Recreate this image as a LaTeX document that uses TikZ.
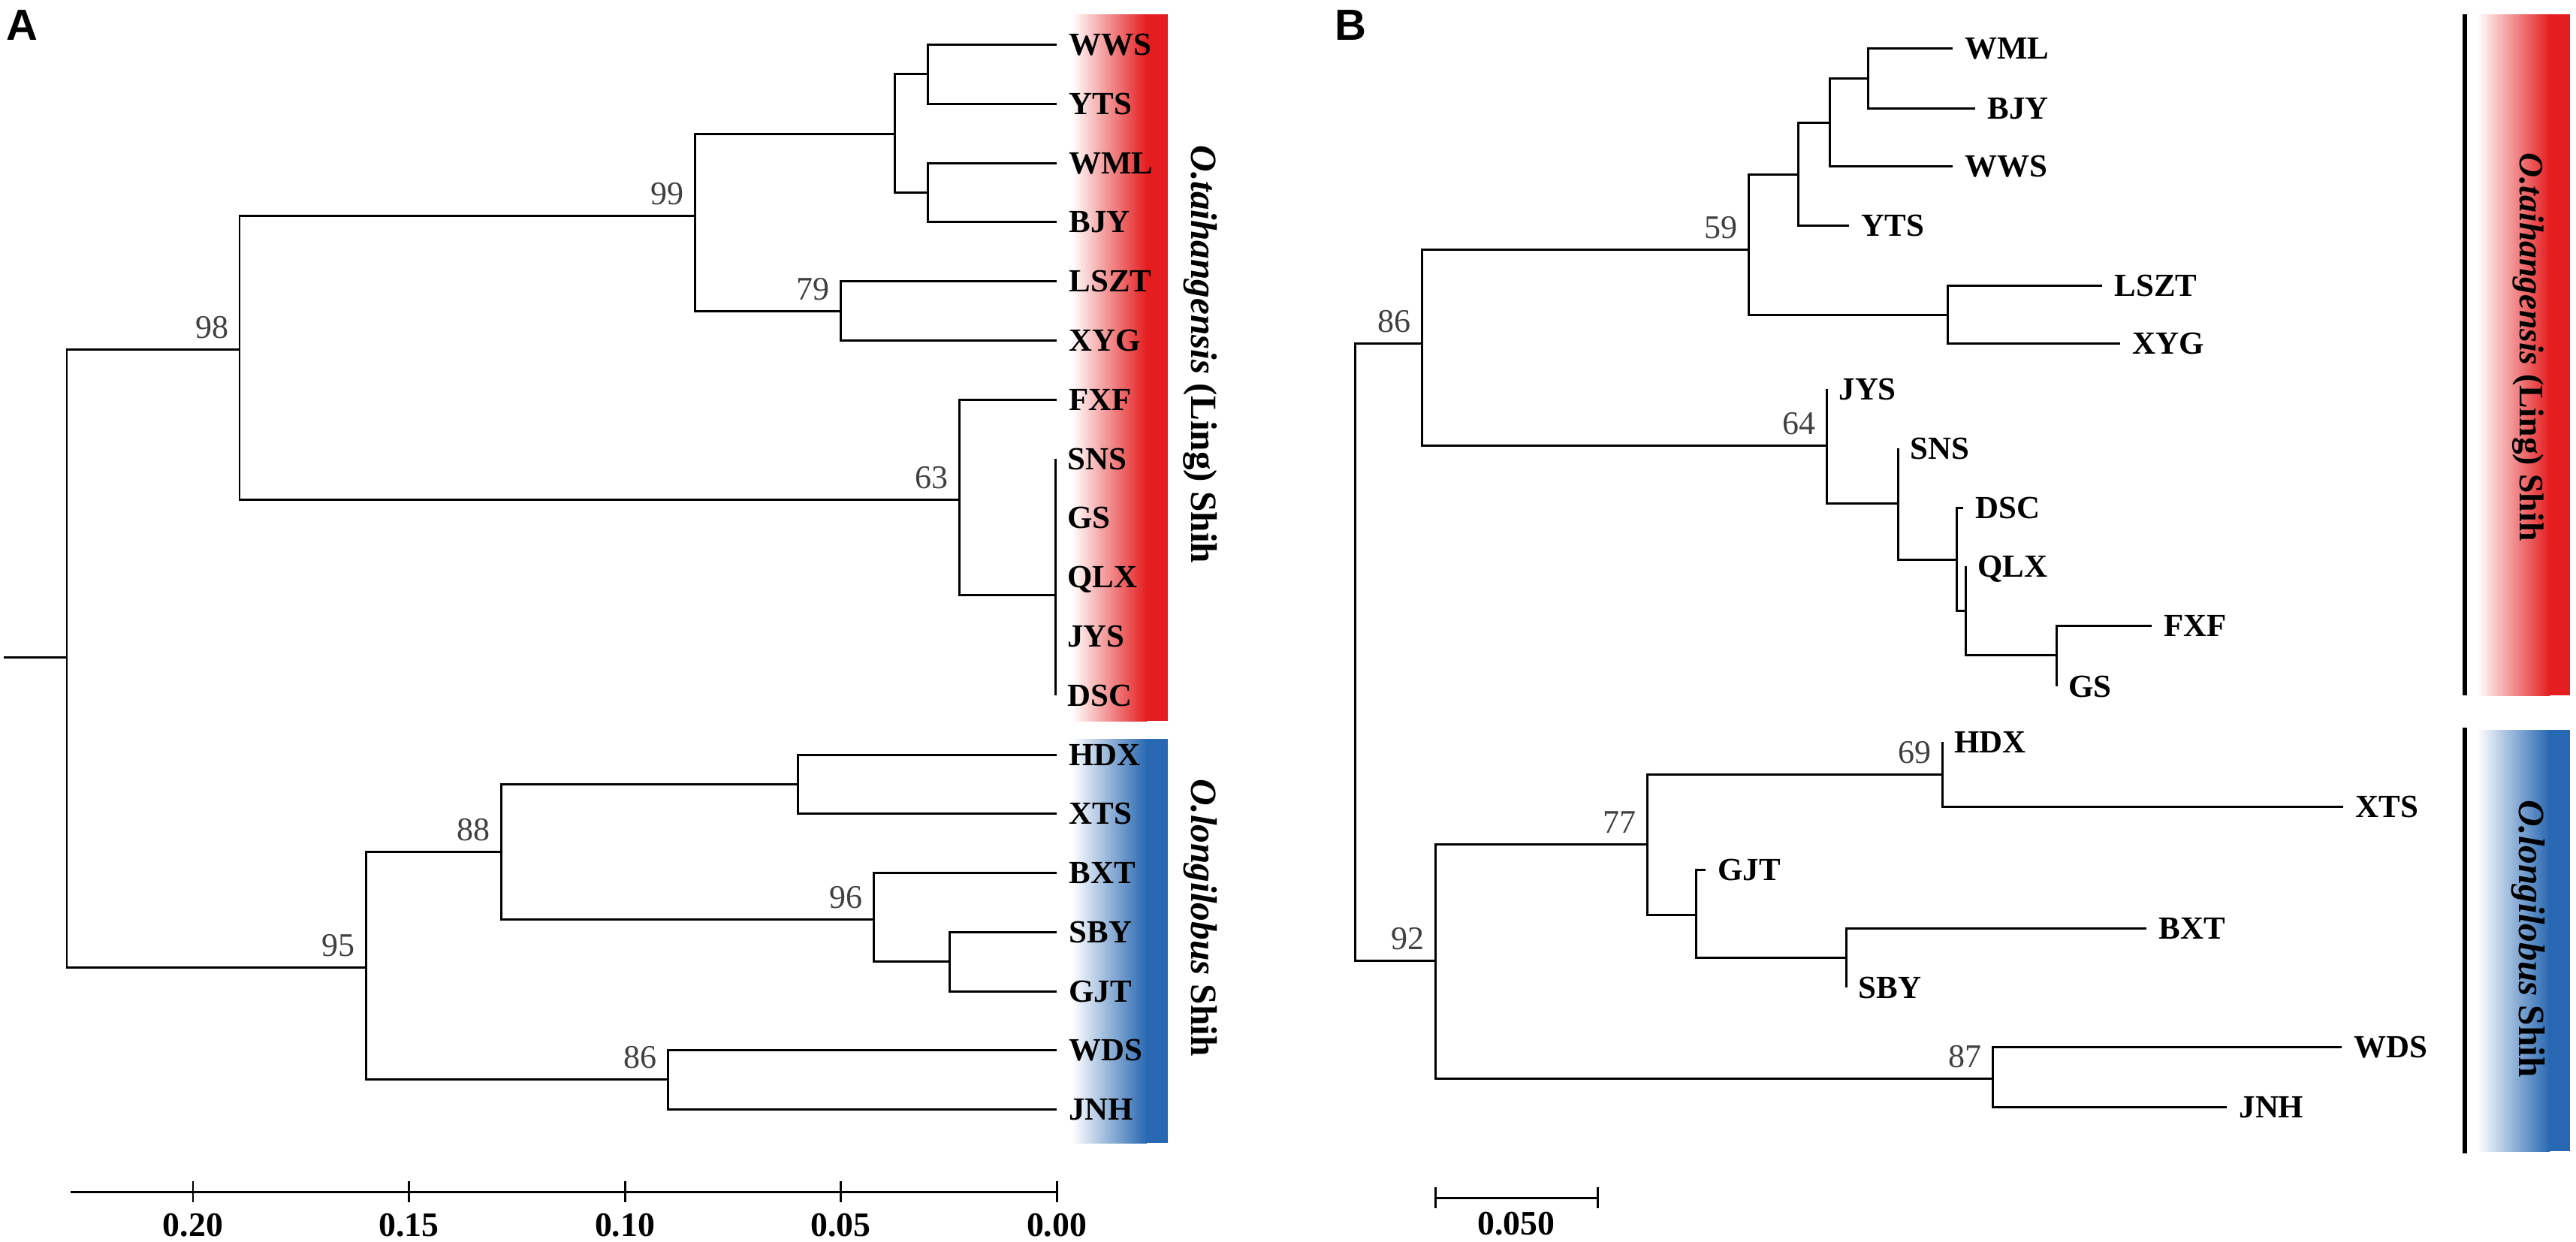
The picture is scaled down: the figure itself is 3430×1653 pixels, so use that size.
\documentclass[tikz,border=0pt]{standalone}
\usepackage{fontspec}
\setmainfont{Liberation Serif}
\newfontfamily\panelfont{Liberation Sans}
\usetikzlibrary{calc,positioning}
\definecolor{cladered}{RGB}{228,30,32}
\definecolor{cladeblue}{RGB}{40,104,178}
\tikzset{
  branch/.style={line width=0.85pt},
  tip/.style={font=\fontsize{12.2}{14}\selectfont\bfseries,anchor=base west,inner sep=0pt,xshift=4.5pt,yshift=-4pt},
  boot/.style={font=\fontsize{12.5}{14}\selectfont,text=black!75,anchor=base east,inner sep=0pt,xshift=-4pt,yshift=4pt},
  scalelab/.style={font=\fontsize{13}{15}\selectfont\bfseries,anchor=base,inner sep=0pt},
  clade/.style={font=\fontsize{14}{16}\selectfont\bfseries,rotate=-90,inner sep=0pt},
  panel/.style={font=\panelfont\fontsize{16.5}{18}\selectfont\bfseries,anchor=north west,inner sep=0pt}
}
\begin{document}
\begin{tikzpicture}[x=0.01cm,y=-0.01cm]
\useasboundingbox (0,0) rectangle (3430,1653);
\node[panel] (pA) at (8,13) {A};
\node[panel] (pB) at (1777,13) {B};
% colour bars
\shade[left color=white,right color=cladered] (1427,19) rectangle (1527,960);
\fill[cladered] (1526,19) rectangle (1555,960);
\shade[left color=white,right color=cladeblue] (1427,984) rectangle (1527,1522);
\fill[cladeblue] (1526,984) rectangle (1555,1522);
\shade[left color=white,right color=cladered] (3298,19) rectangle (3395,926);
\fill[cladered] (3394,19) rectangle (3422,926);
\shade[left color=white,right color=cladeblue] (3298,972) rectangle (3395,1533);
\fill[cladeblue] (3394,972) rectangle (3422,1533);
\draw[line width=1.6pt] (3282,19) -- (3282,926) (3282,969) -- (3282,1536);
\node[clade] (cA1) at (1598,472) {\textit{O.taihangensis} (Ling) Shih};
\node[clade] (cA2) at (1598,1222) {\textit{O.longilobus} Shih};
\node[clade,font=\fontsize{13}{16}\selectfont\bfseries] (cB1) at (3366,462) {\textit{O.taihangensis} (Ling) Shih};
\node[clade] (cB2) at (3366,1250) {\textit{O.longilobus} Shih};
% tree A
\foreach \n/\y in {WWS/59,YTS/138,WML/217,BJY/295,LSZT/374,XYG/453,FXF/532,HDX/1005,XTS/1083,BXT/1162,SBY/1241,GJT/1320,WDS/1398,JNH/1477}
  \coordinate (at\n) at (1407,\y);
\foreach \n/\y in {SNS/611,GS/689,QLX/768,JYS/847,DSC/926}
  \coordinate (at\n) at (1405,\y);
\coordinate (aStub) at (5,875);
\coordinate (aRoot) at (89,875);
\coordinate (a98) at (319,465);
\coordinate (a99) at (925,287);
\coordinate (aUp) at (1191,178);
\coordinate (aWY) at (1235,98);
\coordinate (aWB) at (1235,256);
\coordinate (a79) at (1119,414);
\coordinate (a63) at (1277,665);
\coordinate (aPoly) at (1405,792);
\coordinate (a95) at (487,1288);
\coordinate (a88) at (667,1134);
\coordinate (aHX) at (1062,1044);
\coordinate (a96) at (1163,1224);
\coordinate (aSG) at (1264,1280);
\coordinate (a86) at (889,1437);
\draw[branch] (aStub) -- (aRoot);
\foreach \p/\c in {aRoot/a98,aRoot/a95,a98/a99,a98/a63,a99/aUp,a99/a79,aUp/aWY,aUp/aWB,
    aWY/atWWS,aWY/atYTS,aWB/atWML,aWB/atBJY,a79/atLSZT,a79/atXYG,a63/atFXF,a63/aPoly,
    aPoly/atSNS,aPoly/atGS,aPoly/atQLX,aPoly/atJYS,aPoly/atDSC,a95/a88,a95/a86,
    a88/aHX,a88/a96,aHX/atHDX,aHX/atXTS,a96/atBXT,a96/aSG,aSG/atSBY,aSG/atGJT,
    a86/atWDS,a86/atJNH}
  \draw[branch] (\p) |- (\c);
\foreach \n in {WWS,YTS,WML,BJY,LSZT,XYG,FXF,SNS,GS,QLX,JYS,DSC,HDX,XTS,BXT,SBY,GJT,WDS,JNH}
  \node[tip] (la\n) at (at\n) {\n};
\foreach \n in {98,99,79,63,95,88,96,86}
  \node[boot] (ba\n) at (a\n) {\n};
\draw[branch] (94,1587) -- (1407,1587);
\foreach \v/\x [count=\k] in {0.20/257,0.15/544.5,0.10/832,0.05/1119.5,0.00/1407} {
  \draw[branch] (\x,1573) -- (\x,1601);
  \node[scalelab] (ax\k) at (\x,1646) {\v};
}
% tree B
\foreach \n/\x/\y in {WML/2600/64,BJY/2630/144,WWS/2600/221,YTS/2462/300,LSZT/2799/380,XYG/2823/457,
    JYS/2432/518,SNS/2527/597,DSC/2614/676,QLX/2617/754,FXF/2865/833,GS/2738/914,
    HDX/2586/988,XTS/3120/1074,GJT/2271/1158,BXT/2858/1236,SBY/2458/1315,WDS/3118/1394,JNH/2965/1474}
  \coordinate (bt\n) at (\x,\y);
\coordinate (bRoot) at (1804,868);
\coordinate (b86) at (1893,457);
\coordinate (b59) at (2328,332);
\coordinate (bA) at (2394,232);
\coordinate (bB) at (2436,163);
\coordinate (bC) at (2487,104);
\coordinate (bLX) at (2593,419);
\coordinate (b64) at (2432,593);
\coordinate (bS) at (2527,670);
\coordinate (bD) at (2605,745);
\coordinate (bQ) at (2617,813);
\coordinate (bF) at (2738,872);
\coordinate (b92) at (1911,1279);
\coordinate (b77) at (2193,1124);
\coordinate (b69) at (2586,1031);
\coordinate (bG) at (2258,1218);
\coordinate (bSB) at (2458,1275);
\coordinate (b87) at (2653,1436);
\foreach \p/\c in {bRoot/b86,bRoot/b92,b86/b59,b86/b64,b59/bA,b59/bLX,bA/bB,bA/btYTS,
    bB/bC,bB/btWWS,bC/btWML,bC/btBJY,bLX/btLSZT,bLX/btXYG,b64/btJYS,b64/bS,bS/btSNS,
    bS/bD,bD/btDSC,bD/bQ,bQ/btQLX,bQ/bF,bF/btFXF,bF/btGS,b92/b77,b92/b87,b77/b69,
    b77/bG,b69/btHDX,b69/btXTS,bG/btGJT,bG/bSB,bSB/btBXT,bSB/btSBY,b87/btWDS,b87/btJNH}
  \draw[branch] (\p) |- (\c);
\foreach \n in {WML,BJY,WWS,YTS,LSZT,XYG,JYS,SNS,DSC,QLX,FXF,GS,HDX,XTS,GJT,BXT,SBY,WDS,JNH}
  \node[tip] (lb\n) at (bt\n) {\n};
\foreach \n in {86,59,64,92,77,69,87}
  \node[boot] (bb\n) at (b\n) {\n};
\coordinate (sbL) at (1911,1595);
\coordinate (sbR) at (2127,1595);
\draw[branch] (sbL) -- (sbR);
\draw[branch] (1911,1581) -- (1911,1609) (2127,1581) -- (2127,1609);
\node[scalelab] (sbT) at (2019,1644) {0.050};
\end{tikzpicture}
\end{document}
